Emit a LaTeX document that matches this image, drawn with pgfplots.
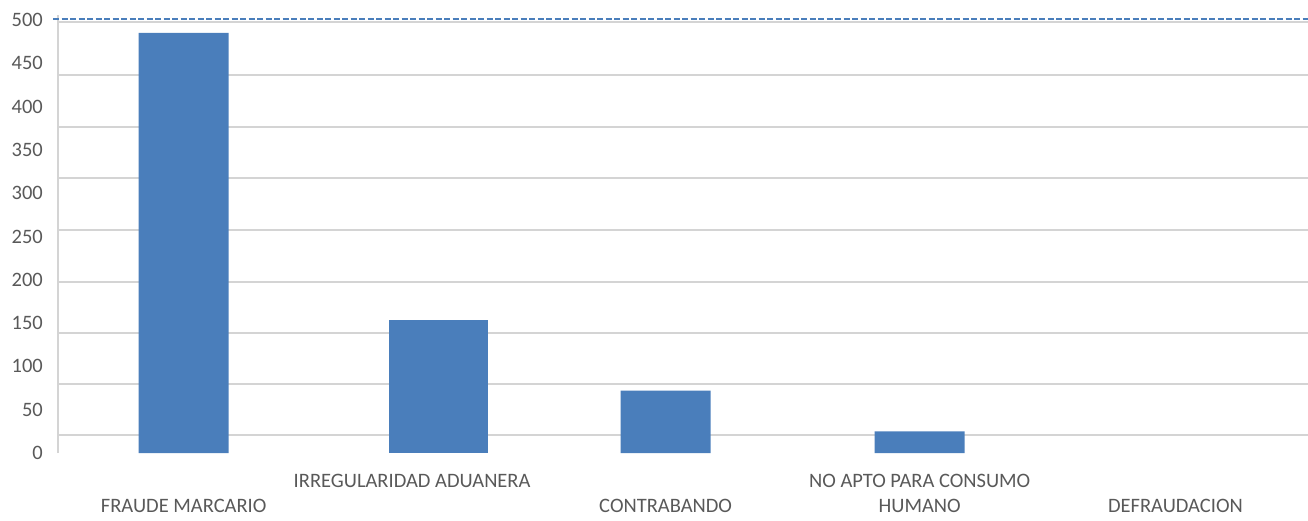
\documentclass[border=0pt]{standalone}
\usepackage{fontspec}
\setmainfont{Carlito}
\usepackage{pgfplots}
\pgfplotsset{compat=1.18}
\definecolor{barblue}{HTML}{4A7EBB}
\definecolor{gridgray}{HTML}{D4D4D4}
\definecolor{txtgray}{HTML}{595959}
\begin{document}
\begin{tikzpicture}
\useasboundingbox (-58pt,-67pt) rectangle (1250pt,453pt);
\begin{axis}[
  scale only axis, width=1250pt, height=438.2pt,
  xmin=-0.51, xmax=4.563, ymin=0, ymax=506,
  axis x line*=bottom, axis y line*=left,
  x axis line style={draw=none},
  y axis line style={draw=gridgray, line width=2pt, -},
  ytick={0,50,...,500},
  extra y ticks={21,80,139,198,257,317,376,436,498},
  extra y tick labels={},
  extra y tick style={grid=major, major grid style={draw=gridgray, line width=2pt}},
  xtick={0,0.927,1.956,2.987,4.025},
  xticklabels={{\strut\\\strut FRAUDE MARCARIO},{\strut IRREGULARIDAD ADUANERA},{\strut\\\strut CONTRABANDO},{\strut NO APTO PARA CONSUMO\\\strut HUMANO},{\strut\\\strut DEFRAUDACION}},
  major tick length=0pt,
  tick style={draw=none},
  xticklabel style={anchor=north, align=center, inner sep=0pt, yshift=-17pt, font=\fontsize{20.5}{25}\selectfont, text=txtgray},
  yticklabel style={anchor=east, inner sep=0pt, xshift=-15pt, font=\fontsize{20.5}{25}\selectfont, text=txtgray},
  /pgf/number format/assume math mode=true,
  clip=false,
]
% DEFRAUDACION = 0 (no visible bar)
\addplot[ybar, bar shift=0pt, bar width=90pt, fill=barblue, draw=none] coordinates {(0,485) (1.956,72) (2.987,25)};
\addplot[ybar, bar shift=0pt, bar width=99pt, fill=barblue, draw=none] coordinates {(1.034,154)};
\addplot[draw=barblue, line width=1.5pt, dash pattern=on 6pt off 2.5pt] coordinates {(-0.53,501) (4.563,501)};
\end{axis}
\end{tikzpicture}
\end{document}
